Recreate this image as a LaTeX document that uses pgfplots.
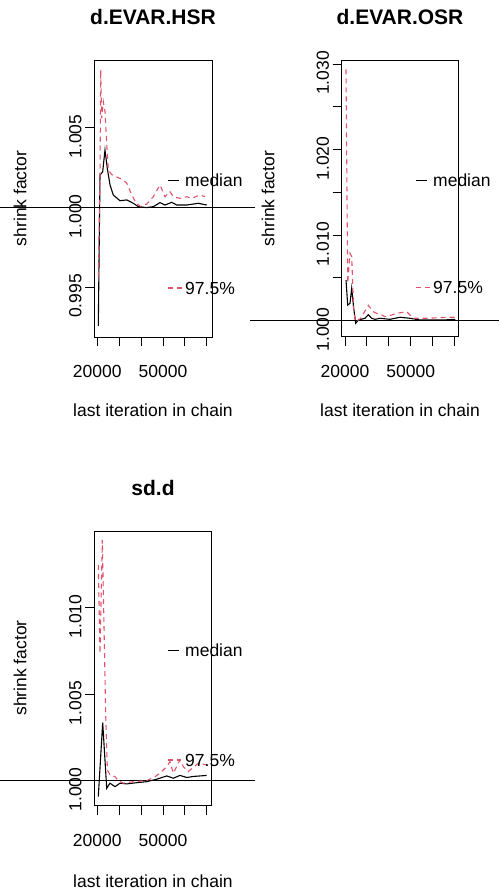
\documentclass[border=0pt]{standalone}
\usepackage{pgfplots}
\pgfplotsset{compat=1.18}
\usepackage{fontspec}
\setmainfont{Liberation Sans}
\definecolor{rred}{HTML}{DF536B}
\newcommand{\fs}{\fontsize{17.5}{21}\selectfont}
\newcommand{\ft}{\fontsize{21}{25}\selectfont\bfseries}
\begin{document}
\begin{tikzpicture}[x=1pt,y=1pt]
\path[use as bounding box] (0pt,0pt) rectangle (499pt,892pt);
\pgfplotsset{rstyle/.style={
  scale only axis, anchor=south west, clip=false,
  axis line style={line width=0.9pt},
  xtick pos=bottom, ytick pos=left,
  tick align=outside, major tick length=9pt,
  tick style={black, line width=0.9pt},
  tick label style={font=\fs},
  /pgf/number format/assume math mode=true,
  scaled x ticks=false, scaled y ticks=false,
  xtick={20000,30000,40000,50000,60000,70000},
  xticklabels={20000,,,50000,,},
  xticklabel style={anchor=north, yshift=-16pt},
  yticklabel style={rotate=90, anchor=south, xshift=-9pt},
  med/.style={black, line width=1.1pt},
  upp/.style={rred, line width=1.1pt, dash pattern=on 5pt off 4pt},
  hline/.style={black, line width=0.9pt, forget plot},
}}
% Panel 1
\begin{axis}[rstyle, at={(94pt,555pt)}, width=118pt, height=277pt,
  xmin=18493, xmax=72372, ymin=0.99187, ymax=1.00923,
  ytick={0.995,1,1.005}, yticklabels={0.995,1.000,1.005}]
\addplot[hline] coordinates {(-24427,1) (92006,1)};
\addplot[med] coordinates {(20457,0.99256) (21233,1.00202) (22466,1.00223) (23516,1.00359) (24566,1.00244) (25799,1.00140) (27306,1.00077) (30365,1.00041) (33424,1.00046) (36438,1.00025) (38721,1.00004) (42556,0.99998) (45570,1.00004) (48629,1.00029) (50911,1.00014) (53971,1.00031) (56254,1.00014) (60820,1.00014) (66117,1.00025) (69952,1.00014)};
\addplot[upp] coordinates {(20457,0.99565) (21233,1.00192) (21552,1.00860) (22009,1.00558) (22740,1.00662) (23516,1.00600) (24292,1.00400) (25023,1.00234) (26575,1.00205) (28858,1.00190) (31872,1.00171) (33500,1.00150) (35400,1.00088) (37700,1.00025) (39950,1.00004) (42556,1.00020) (45570,1.00066) (48629,1.00140) (50911,1.00066) (53194,1.00098) (54702,1.00066) (57761,1.00056) (60820,1.00066) (63103,1.00056) (66893,1.00077) (69176,1.00066)};
\end{axis}
% Panel 2
\begin{axis}[rstyle, at={(341.7pt,555.3pt)}, width=116.6pt, height=276.7pt,
  xmin=18493, xmax=71733, ymin=0.99813, ymax=1.03047,
  ytick={1,1.005,1.01,1.015,1.02,1.025,1.03},
  yticklabels={1.000,,1.010,,1.020,,1.030}]
\addplot[hline] coordinates {(-23377,1) (90316,1)};
\addplot[med] coordinates {(20457,1.00475) (21233,1.00183) (22283,1.00203) (23059,1.00379) (23972,1.00145) (24886,0.99970) (26073,1.00008) (29132,1.00028) (30639,1.00070) (32191,1.00028) (33698,1.00016) (35981,1.00028) (40547,1.00016) (45113,1.00040) (49679,1.00028) (54245,1.00008) (58811,1.00008) (64884,1.00008) (70364,1.00016)};
\addplot[upp] coordinates {(20457,1.02937) (21233,1.00437) (22283,1.00787) (23059,1.00750) (23972,1.00105) (24886,0.99988) (27200,1.00028) (30639,1.00180) (32922,1.00105) (34474,1.00086) (36757,1.00067) (38264,1.00047) (41323,1.00067) (43606,1.00086) (48172,1.00105) (51186,1.00028) (57304,1.00028) (66436,1.00040) (70364,1.00040)};
\end{axis}
% Panel 3
\begin{axis}[rstyle, at={(94pt,86.3pt)}, width=117.7pt, height=274.7pt,
  xmin=18493, xmax=72235, ymin=0.99855, ymax=1.01443,
  ytick={1,1.005,1.01}, yticklabels={1.000,1.005,1.010}]
\addplot[hline] coordinates {(-24427,1) (92006,1)};
\addplot[med] coordinates {(20457,0.99908) (22466,1.00335) (24292,0.99956) (25799,0.99985) (28082,0.99965) (30365,0.99985) (33424,0.99981) (37990,0.99988) (42556,0.99994) (47122,1.00008) (51688,1.00027) (54702,1.00014) (57761,1.00030) (60820,1.00018) (63834,1.00024) (66893,1.00027) (69952,1.00030)};
\addplot[upp] coordinates {(20457,1.01247) (21233,1.00736) (22283,1.01391) (23900,1.00350) (24600,1.00062) (25799,1.00033) (28082,1.00023) (29589,1.00000) (31872,0.99985) (36438,0.99994) (42556,1.00000) (46346,1.00023) (48629,1.00043) (51688,1.00081) (53194,1.00110) (54702,1.00043) (57761,1.00120) (59268,1.00081) (61500,1.00052) (66117,1.00100) (69952,1.00091)};
\end{axis}
% titles and labels
\node[font=\ft] at (153pt,875pt) {d.EVAR.HSR};
\node[font=\ft] at (400pt,875pt) {d.EVAR.OSR};
\node[font=\ft] at (153pt,404pt) {sd.d};
\node[font=\fs, rotate=90] at (20pt,693.5pt) {shrink factor};
\node[font=\fs, rotate=90] at (268pt,693.5pt) {shrink factor};
\node[font=\fs, rotate=90] at (20pt,224pt) {shrink factor};
\node[font=\fs] at (153pt,482pt) {last iteration in chain};
\node[font=\fs] at (400pt,482pt) {last iteration in chain};
\node[font=\fs] at (153pt,10.5pt) {last iteration in chain};
% legends
\draw[black, line width=1.1pt] (168pt,711.3pt) -- (179pt,711.3pt);
\node[font=\fs, anchor=west, inner sep=0pt] at (185pt,711.3pt) {median};
\draw[rred, line width=1.1pt, dash pattern=on 5pt off 4pt] (168pt,604pt) -- (182pt,604pt);
\node[font=\fs, anchor=west, inner sep=0pt] at (185pt,604pt) {97.5\%};
\draw[black, line width=1.1pt] (416pt,711.3pt) -- (427pt,711.3pt);
\node[font=\fs, anchor=west, inner sep=0pt] at (433pt,711.3pt) {median};
\draw[rred, line width=1.1pt, dash pattern=on 5pt off 4pt] (416pt,604.3pt) -- (431pt,604.3pt);
\node[font=\fs, anchor=west, inner sep=0pt] at (433pt,604.3pt) {97.5\%};
\draw[black, line width=1.1pt] (168pt,241.3pt) -- (179pt,241.3pt);
\node[font=\fs, anchor=west, inner sep=0pt] at (185pt,241.3pt) {median};
\draw[rred, line width=1.1pt, dash pattern=on 5pt off 4pt] (168pt,132pt) -- (181pt,132pt);
\node[font=\fs, anchor=west, inner sep=0pt] at (185pt,132pt) {97.5\%};
\end{tikzpicture}
\end{document}
